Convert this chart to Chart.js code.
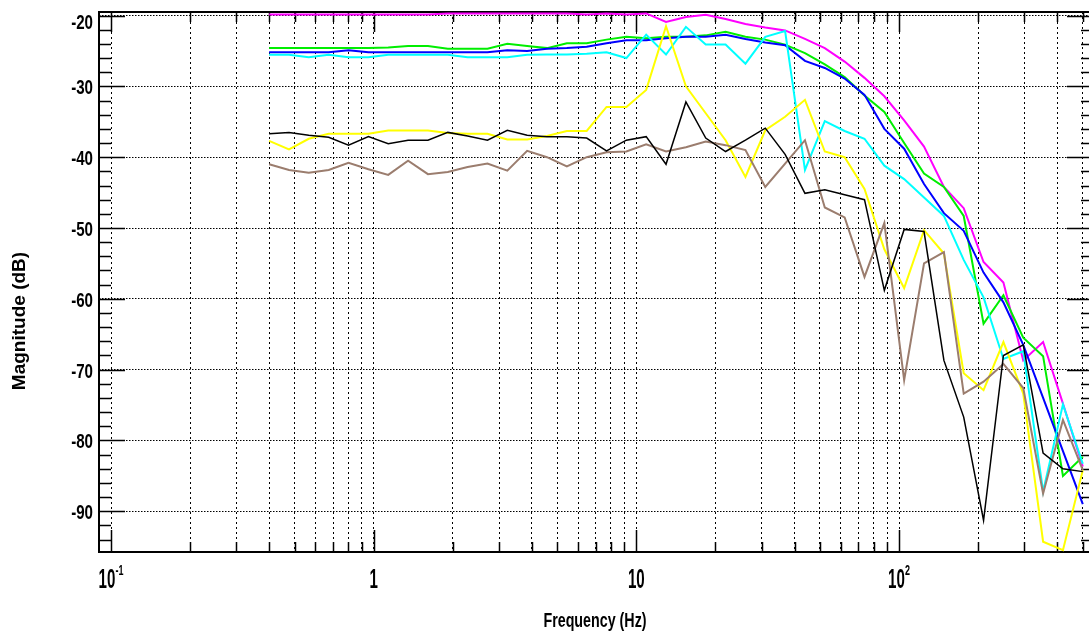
<!DOCTYPE html>
<html>
<head>
<meta charset="utf-8">
<script src="https://cdn.jsdelivr.net/npm/chart.js@4.4.1/dist/chart.umd.min.js"></script>
<style>
html,body{margin:0;padding:0;background:#fff;overflow:hidden;width:1089px;height:637px}
canvas{display:block}
</style>
</head>
<body>
<canvas id="c" width="1100" height="637" style="width:1100px;height:637px"></canvas>
<script>
// ---- data ----
const freqs = [0.4, 0.476, 0.566, 0.674, 0.802, 0.955, 1.136, 1.352, 1.609, 1.915, 2.278, 2.711, 3.226, 3.839, 4.569, 5.437, 6.47, 7.699, 9.162, 10.9, 12.97, 15.44, 18.37, 21.86, 26.02, 30.96, 36.84, 43.84, 52.17, 62.08, 73.88, 87.92, 104.6, 124.5, 148.2, 176.3, 209.8, 249.7, 297.1, 353.6, 420.8, 500.7];

const magenta = [-19.85, -19.85, -19.85, -19.85, -19.85, -19.85, -19.85, -19.85, -19.85, -19.7, -19.7, -19.7, -19.7, -19.7, -19.7, -19.7, -19.85, -19.7, -19.85, -19.7, -20.9, -20.2, -19.9, -20.5, -21.2, -21.7, -22.1, -23.3, -24.6, -26.5, -28.8, -31.4, -34.8, -38.5, -44.2, -47.2, -54.8, -57.7, -68.7, -66.1, -74.8, -83.7];
const green = [-24.6, -24.6, -24.6, -24.6, -24.6, -24.6, -24.5, -24.3, -24.3, -24.7, -24.7, -24.7, -24.0, -24.3, -24.6, -23.9, -23.9, -23.4, -23.0, -23.2, -23.0, -23.0, -22.8, -22.3, -23.0, -23.4, -24.1, -25.3, -26.9, -28.7, -31.3, -33.6, -38.0, -42.3, -44.2, -48.3, -63.5, -59.5, -65.5, -68.1, -85.0, -82.3];
const blue = [-25.2, -25.2, -25.2, -25.2, -24.9, -25.2, -25.2, -25.2, -25.2, -25.2, -25.2, -25.2, -24.9, -25.0, -24.7, -24.6, -24.4, -23.9, -23.5, -23.5, -23.2, -23.0, -23.0, -22.7, -23.3, -23.8, -24.2, -26.4, -27.4, -28.9, -31.2, -36.0, -38.8, -43.8, -47.9, -50.4, -56.3, -60.5, -66.5, -74.0, -81.5, -89.0];
const cyan = [-25.55, -25.55, -25.9, -25.55, -25.9, -25.9, -25.55, -25.55, -25.55, -25.55, -25.9, -25.9, -25.9, -25.55, -25.5, -25.5, -25.4, -25.2, -26.0, -22.7, -25.5, -21.6, -24.1, -24.1, -26.8, -23.0, -22.2, -41.8, -34.9, -36.3, -37.4, -41.2, -43.1, -45.7, -48.3, -54.5, -59.8, -68.5, -67.4, -87.2, -74.9, -83.3];
const yellow = [-37.7, -38.9, -37.4, -36.7, -36.7, -36.7, -36.25, -36.25, -36.25, -36.6, -36.7, -36.7, -37.5, -37.5, -37.0, -36.3, -36.3, -32.9, -32.9, -30.5, -21.5, -30.0, -33.8, -37.6, -42.8, -36.2, -34.3, -31.9, -39.2, -40.0, -44.5, -53.0, -58.5, -50.3, -53.6, -70.5, -72.9, -66.1, -73.4, -94.3, -95.5, -84.2];
const black = [-36.7, -36.5, -36.9, -37.2, -38.3, -37.1, -38.1, -37.6, -37.6, -36.5, -37.0, -37.6, -36.2, -36.9, -37.1, -37.1, -37.3, -39.1, -37.6, -37.1, -41.0, -32.2, -37.3, -39.2, -37.6, -35.9, -39.6, -45.1, -44.6, -45.3, -46.0, -58.8, -50.2, -50.5, -68.7, -76.7, -91.3, -68.0, -66.5, -81.8, -84.0, -84.4];
const brown = [-41.0, -41.8, -42.2, -41.8, -40.8, -41.7, -42.5, -40.5, -42.4, -42.1, -41.4, -40.9, -41.9, -39.1, -40.0, -41.3, -40.0, -39.3, -39.2, -38.2, -39.2, -38.6, -37.8, -38.3, -39.0, -44.2, -40.9, -37.6, -47.1, -48.5, -56.9, -49.3, -71.5, -55.0, -53.4, -73.4, -71.7, -69.2, -72.6, -87.5, -77.1, -84.2];

const xTickValues = [0.1,0.2,0.3,0.4,0.5,0.6,0.7,0.8,0.9,1,2,3,4,5,6,7,8,9,10,20,30,40,50,60,70,80,90,100,200,300,400,500];
const xMajorValues = [0.1, 1, 10, 100];
const xMajorBase = ['10', '1', '10', '10'];
const xMajorExp = ['-1', '', '', '2'];
const yTickValues = [-20,-30,-40,-50,-60,-70,-80,-90];
const yMinorStep = 2;
const xTitle = 'Frequency (Hz)';
const yTitle = 'Magnitude (dB)';

// ---- styling ----
const SANS = '"Liberation Sans",Arial,"DejaVu Sans",sans-serif';

const seriesDefs = [
  {name:'black', values:black, color:'#000000', width:1.5},
  {name:'brown', values:brown, color:'#9b7d6e', width:2},
  {name:'yellow', values:yellow, color:'#ffff00', width:2},
  {name:'cyan', values:cyan, color:'#00ffff', width:2},
  {name:'blue', values:blue, color:'#0000ff', width:2},
  {name:'green', values:green, color:'#00ee00', width:2},
  {name:'magenta', values:magenta, color:'#ff00ff', width:2}
];

function majorIndex(v){ return xMajorValues.findIndex(m => Math.abs(v-m) < 1e-9*Math.max(1,m)); }

function drawScaled(ctx, text, x, y, font, sx, align){
  ctx.save();
  ctx.translate(x, y);
  ctx.scale(sx, 1);
  ctx.font = font;
  ctx.textAlign = align;
  ctx.textBaseline = 'alphabetic';
  ctx.fillText(text, 0, 0);
  ctx.restore();
}
function measureScaled(ctx, text, font, sx){
  ctx.save(); ctx.font = font; const w = ctx.measureText(text).width * sx; ctx.restore(); return w;
}

const axesPlugin = {
  id:'matlabAxes',
  beforeDatasetsDraw(chart){
    const {ctx, chartArea:a, scales:{x, y}} = chart;
    ctx.save();
    ctx.strokeStyle = '#000';
    ctx.lineWidth = 1.5;
    ctx.beginPath();
    xTickValues.forEach(v => {
      const px = Math.round(x.getPixelForValue(v)) + 0.5;
      const major = majorIndex(v) >= 0;
      const lb = major ? 22 : 10, lt = major ? 20 : 10;
      ctx.moveTo(px, a.bottom); ctx.lineTo(px, a.bottom - lb);
      ctx.moveTo(px, a.top); ctx.lineTo(px, a.top + lt);
    });
    for (let v = -94; v <= -20; v += yMinorStep) {
      const py = Math.round(y.getPixelForValue(v)) + 0.5;
      const major = (v % 10 === 0);
      const l = major ? 26 : 12;
      ctx.moveTo(a.left, py); ctx.lineTo(a.left + l, py);
      ctx.moveTo(a.right, py); ctx.lineTo(a.right - l, py);
    }
    ctx.stroke();
    ctx.lineWidth = 2;
    ctx.strokeRect(a.left, a.top, a.right - a.left, a.bottom - a.top);
    ctx.restore();
  },
  afterDraw(chart){
    const {ctx, scales:{x, y}} = chart;
    ctx.save();
    ctx.fillStyle = '#000';
    // y tick labels
    const yFont = 'bold 21px ' + SANS;
    yTickValues.forEach(v => {
      const py = y.getPixelForValue(v);
      const base = Math.max(py + 8, 28.5);
      drawScaled(ctx, String(v), 93, base, yFont, 0.72, 'right');
    });
    // x tick labels (with superscript exponents)
    const mainFont = 'bold 28px ' + SANS, supFont = 'bold 15px ' + SANS;
    xMajorValues.forEach((v, i) => {
      const px = x.getPixelForValue(v);
      const w1 = measureScaled(ctx, xMajorBase[i], mainFont, 0.54);
      const w2 = xMajorExp[i] ? measureScaled(ctx, xMajorExp[i], supFont, 0.6) : 0;
      const start = px - (w1 + w2) / 2;
      drawScaled(ctx, xMajorBase[i], start, 588, mainFont, 0.54, 'left');
      if (xMajorExp[i]) drawScaled(ctx, xMajorExp[i], start + w1, 575, supFont, 0.6, 'left');
    });
    // axis titles
    drawScaled(ctx, xTitle, 595, 627, 'bold 21px ' + SANS, 0.68, 'center');
    ctx.save();
    ctx.translate(25, 321);
    ctx.rotate(-Math.PI/2);
    ctx.font = 'bold 19px ' + SANS;
    ctx.textAlign = 'center';
    ctx.textBaseline = 'alphabetic';
    ctx.fillText(yTitle, 0, 0);
    ctx.restore();
    ctx.restore();
  }
};

new Chart(document.getElementById('c').getContext('2d'), {
  type: 'line',
  data: {
    datasets: seriesDefs.map(s => ({
      label: s.name,
      data: freqs.map((f, i) => ({x: f, y: s.values[i]})),
      borderColor: s.color,
      backgroundColor: s.color,
      borderWidth: s.width,
      pointRadius: 0,
      tension: 0,
      fill: false
    }))
  },
  options: {
    responsive: false,
    animation: false,
    devicePixelRatio: 1,
    layout: {padding: {top: 12, right: 7, left: 0, bottom: 0}},
    plugins: {legend: {display: false}, tooltip: {enabled: false}},
    scales: {
      x: {
        type: 'logarithmic',
        min: 0.09, max: 547.6,
        afterBuildTicks: s => { s.ticks = xTickValues.map(v => ({value: v})); },
        afterFit: s => { s.height = 85; s.paddingLeft = 0; s.paddingRight = 0; },
        ticks: {display: false, autoSkip: false},
        grid: {color: '#000', lineWidth: 1, drawTicks: false},
        border: {display: false, dash: [2, 3]}
      },
      y: {
        type: 'linear',
        min: -95.75, max: -19.5,
        afterBuildTicks: s => { s.ticks = yTickValues.map(v => ({value: v})); },
        afterFit: s => { s.width = 99; s.paddingTop = 0; s.paddingBottom = 0; },
        ticks: {display: false},
        grid: {color: '#000', lineWidth: 1, drawTicks: false},
        border: {display: false, dash: [1.5, 1.5]}
      }
    }
  },
  plugins: [axesPlugin]
});
</script>
</body>
</html>
